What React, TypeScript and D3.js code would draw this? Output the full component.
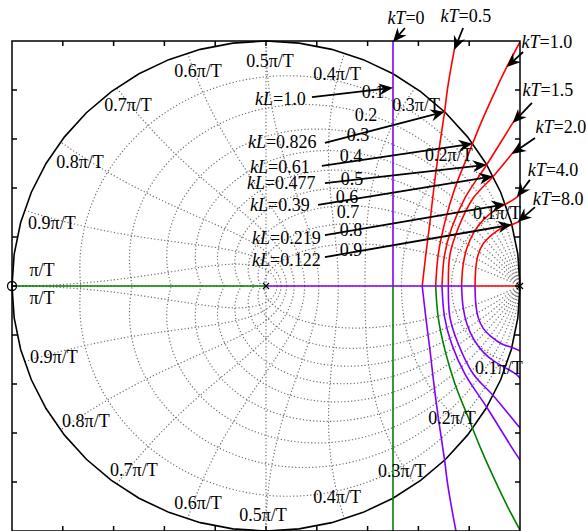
import React from 'react';
import * as d3 from 'd3';

const W = 587;
const H = 531;

// ---- root-locus data (upper half, z-plane coordinates); lower half is the conjugate ----
const kTValues = ['0', '0.5', '1.0', '1.5', '2.0', '4.0', '8.0'];
const locusKT0 = [[0.5, 0], [0.5, 1.0]];
const locusKT05 = [[0.615, 0], [0.630, 0.135], [0.646, 0.265], [0.661, 0.400], [0.678, 0.535], [0.703, 0.710], [0.715, 0.808], [0.741, 0.963], [0.748, 1.0]];
const locusKT10 = [[0.668, 0], [0.678, 0.128], [0.705, 0.264], [0.744, 0.400], [0.796, 0.536], [0.849, 0.672], [0.908, 0.808], [0.948, 0.894], [1.0, 0.996]];
const locusKT15 = [[0.693, 0], [0.703, 0.127], [0.731, 0.237], [0.783, 0.359], [0.869, 0.495], [0.980, 0.679], [1.007, 0.720]];
const locusKT20 = [[0.718, 0], [0.724, 0.127], [0.757, 0.237], [0.816, 0.359], [0.895, 0.448], [0.987, 0.563], [1.008, 0.588]];
const locusKT40 = [[0.770, 0], [0.776, 0.086], [0.791, 0.155], [0.819, 0.220], [0.858, 0.273], [0.902, 0.310], [0.941, 0.333], [0.988, 0.363], [1.008, 0.388]];
const locusKT80 = [[0.823, 0], [0.826, 0.073], [0.835, 0.127], [0.854, 0.171], [0.889, 0.209], [0.929, 0.237], [0.967, 0.250], [1.008, 0.269]];
const loci = [locusKT0, locusKT05, locusKT10, locusKT15, locusKT20, locusKT40, locusKT80];
const upperColors = ['#7f00ff', '#ff0000', '#ff0000', '#ff0000', '#ff0000', '#ff0000', '#ff0000'];
const lowerColors = ['#008000', '#7f00ff', '#008000', '#7f00ff', '#7f00ff', '#7f00ff', '#7f00ff'];
// real axis segments: breakpoints and colours
const realAxisBreaks = [-1, 0, 0.823, 1];
const realAxisColors = ['#008000', '#7f00ff', '#ff0000'];

// ---- kT annotations ----
const kTLabelPos = [[0.551, 1.094], [0.787, 1.102], [1.106, 0.996], [1.110, 0.800], [1.161, 0.649], [1.130, 0.473], [1.150, 0.355]];
const kTArrowFrom = [[0.547, 1.053], [0.776, 1.053], [1.012, 0.955], [1.047, 0.747], [1.059, 0.604], [1.039, 0.433], [1.059, 0.322]];
const kTArrowTipY = [0.996, 0.963, 0.894, 0.665, 0.539, 0.363, 0.261];

// ---- kL annotations (arrow to unit-circle crossing of each kT locus) ----
const kLValues = ['1.0', '0.826', '0.61', '0.477', '0.39', '0.219', '0.122'];
const kLLabelPos = [[-0.043, 0.763], [-0.071, 0.588], [-0.063, 0.486], [-0.075, 0.420], [-0.063, 0.331], [-0.055, 0.196], [-0.055, 0.106]];
const kLArrowFrom = [[0.181, 0.771], [0.232, 0.584], [0.220, 0.490], [0.232, 0.420], [0.205, 0.331], [0.232, 0.208], [0.232, 0.118]];

// ---- z-grid ----
const zetas = [0.1, 0.2, 0.3, 0.4, 0.5, 0.6, 0.7, 0.8, 0.9];
const wnFracs = [0.1, 0.2, 0.3, 0.4, 0.5, 0.6, 0.7, 0.8, 0.9, 1.0];
const zetaLabelPos = [[0.421, 0.792], [0.394, 0.698], [0.362, 0.616], [0.335, 0.531], [0.339, 0.437], [0.319, 0.363], [0.323, 0.302], [0.335, 0.229], [0.335, 0.147]];
const wnLabels = ['0.1π/T', '0.2π/T', '0.3π/T', '0.4π/T', '0.5π/T', '0.6π/T', '0.7π/T', '0.8π/T', '0.9π/T', 'π/T'];
const wnLabelUpper = [[0.909, 0.298], [0.720, 0.535], [0.591, 0.739], [0.280, 0.865], [0.016, 0.918], [-0.268, 0.878], [-0.543, 0.739], [-0.732, 0.506], [-0.843, 0.257], [-0.882, 0.065]];
const wnLabelLower = [[0.917, -0.335], [0.732, -0.539], [0.535, -0.755], [0.280, -0.861], [-0.012, -0.935], [-0.268, -0.886], [-0.520, -0.751], [-0.709, -0.551], [-0.835, -0.290], [-0.882, -0.049]];
const tickValues = [-0.8, -0.6, -0.4, -0.2, 0, 0.2, 0.4, 0.6, 0.8];

const FONT = "'Liberation Serif','Times New Roman',serif";

const x = d3.scaleLinear().domain([-1, 1]).range([12, 520]);
const y = d3.scaleLinear().domain([-1, 1]).range([531, 41]);

const lineSmooth = d3.line<number[]>().x(d => x(d[0])).y(d => y(d[1])).curve(d3.curveCatmullRom.alpha(0.5));
const lineStraight = d3.line<number[]>().x(d => x(d[0])).y(d => y(d[1]));

function circleCrossing(pts: number[][]): number[] {
  for (let i = 0; i < pts.length - 1; i++) {
    const r1 = Math.hypot(pts[i][0], pts[i][1]);
    const r2 = Math.hypot(pts[i + 1][0], pts[i + 1][1]);
    if ((r1 - 1) * (r2 - 1) <= 0) {
      const t = (1 - r1) / (r2 - r1);
      return [pts[i][0] + t * (pts[i + 1][0] - pts[i][0]), pts[i][1] + t * (pts[i + 1][1] - pts[i][1])];
    }
  }
  return pts[pts.length - 1];
}
function pointAtY(pts: number[][], yy: number): number[] {
  for (let i = 0; i < pts.length - 1; i++) {
    const a = pts[i][1], b = pts[i + 1][1];
    if ((a - yy) * (b - yy) <= 0 && a !== b) {
      const t = (yy - a) / (b - a);
      return [pts[i][0] + t * (pts[i + 1][0] - pts[i][0]), yy];
    }
  }
  return pts[pts.length - 1];
}

function Arrow({ from, to }: { from: number[]; to: number[] }) {
  const x1 = x(from[0]), y1 = y(from[1]), x2 = x(to[0]), y2 = y(to[1]);
  const dx = x2 - x1, dy = y2 - y1;
  const len = Math.hypot(dx, dy);
  const ux = dx / len, uy = dy / len;
  const nx = -uy, ny = ux;
  const L = 14, Wd = 6, notch = 9.5;
  const b1 = [x2 - ux * L + nx * Wd, y2 - uy * L + ny * Wd];
  const b2 = [x2 - ux * L - nx * Wd, y2 - uy * L - ny * Wd];
  const nb = [x2 - ux * notch, y2 - uy * notch];
  return (
    <g>
      <line x1={x1} y1={y1} x2={nb[0]} y2={nb[1]} stroke="#000" strokeWidth={1.8} />
      <path d={`M${x2},${y2}L${b1[0]},${b1[1]}L${nb[0]},${nb[1]}L${b2[0]},${b2[1]}Z`} fill="#000" />
    </g>
  );
}

export default function App() {
  // grid curves
  const zetaCurves: number[][][] = [];
  zetas.forEach(z => {
    const m = z / Math.sqrt(1 - z * z);
    const up = d3.range(0, 201).map(i => {
      const th = (i / 200) * Math.PI;
      const r = Math.exp(-m * th);
      return [r * Math.cos(th), r * Math.sin(th)];
    });
    zetaCurves.push(up);
    zetaCurves.push(up.map(p => [p[0], -p[1]]));
  });
  const wnCurves: number[][][] = [];
  wnFracs.forEach(f => {
    const a = f * Math.PI;
    const up = d3.range(0, 101).map(i => {
      const t = (i / 100) * (Math.PI / 2);
      const r = Math.exp(-a * Math.cos(t));
      const ang = a * Math.sin(t);
      return [r * Math.cos(ang), r * Math.sin(ang)];
    });
    wnCurves.push(up);
    wnCurves.push(up.map(p => [p[0], -p[1]]));
  });
  const unitCircle = d3.range(0, 49).map(i => {
    const th = (i / 48) * 2 * Math.PI;
    return [Math.cos(th), Math.sin(th)];
  });

  const bx0 = x(-1), bx1 = x(1), by0 = y(1), by1 = y(-1);
  const tickLen = 5;

  return (
    <svg width={W} height={H} style={{ position: 'absolute', left: 0, top: 0, background: '#fff' }} fontFamily={FONT}>
      <defs>
        <clipPath id="box">
          <rect x={bx0} y={by0} width={bx1 - bx0} height={by1 - by0} />
        </clipPath>
      </defs>
      <rect x={0} y={0} width={W} height={H} fill="#fff" />
      {/* dotted z-grid */}
      <g fill="none" stroke="#707070" strokeWidth={1.2} strokeDasharray="1.2,2.2">
        {zetaCurves.map((c, i) => <path key={'z' + i} d={lineStraight(c) || ''} />)}
        {wnCurves.map((c, i) => <path key={'w' + i} d={lineStraight(c) || ''} />)}
        <path d={lineStraight([[-1, 0], [1, 0]]) || ''} />
        <path d={lineStraight([[0, -1], [0, 1]]) || ''} />
      </g>
      {/* unit circle */}
      <path d={lineStraight(unitCircle) || ''} fill="none" stroke="#000" strokeWidth={1.6} />
      {/* loci */}
      <g clipPath="url(#box)" fill="none" strokeWidth={1.6}>
        {loci.map((pts, i) => (
          <g key={'l' + i}>
            <path d={(i === 0 ? lineStraight(pts) : lineSmooth(pts)) || ''} stroke={upperColors[i]} />
            <path d={(i === 0 ? lineStraight(pts.map(p => [p[0], -p[1]])) : lineSmooth(pts.map(p => [p[0], -p[1]]))) || ''} stroke={lowerColors[i]} />
          </g>
        ))}
        {realAxisColors.map((c, i) => (
          <path key={'ra' + i} d={lineStraight([[realAxisBreaks[i], 0], [realAxisBreaks[i + 1], 0]]) || ''} stroke={c} />
        ))}
      </g>
      {/* axes box */}
      <g stroke="#000" strokeWidth={1.5} fill="none">
        <rect x={bx0} y={by0} width={bx1 - bx0} height={by1 - by0} />
        {tickValues.map(t => (
          <g key={'t' + t}>
            <line x1={x(t)} x2={x(t)} y1={by0} y2={by0 + tickLen} />
            <line x1={x(t)} x2={x(t)} y1={by1} y2={by1 - tickLen} />
            <line x1={bx0} x2={bx0 + tickLen} y1={y(t)} y2={y(t)} />
            <line x1={bx1} x2={bx1 - tickLen} y1={y(t)} y2={y(t)} />
          </g>
        ))}
      </g>
      {/* pole / zero markers */}
      <circle cx={x(-1)} cy={y(0)} r={4.5} fill="none" stroke="#000" strokeWidth={1.3} />
      {[0, 1].map(p => (
        <g key={'x' + p} stroke="#000" strokeWidth={1.2}>
          <line x1={x(p) - 3} x2={x(p) + 3} y1={y(0) - 3} y2={y(0) + 3} />
          <line x1={x(p) - 3} x2={x(p) + 3} y1={y(0) + 3} y2={y(0) - 3} />
        </g>
      ))}
      {/* grid labels */}
      <g fontSize={18} fill="#000" textAnchor="middle" dominantBaseline="central">
        {zetas.map((z, i) => (
          <text key={'zl' + i} x={x(zetaLabelPos[i][0])} y={y(zetaLabelPos[i][1])}>{String(z)}</text>
        ))}
        {wnLabels.map((s, i) => (
          <text key={'wu' + i} x={x(wnLabelUpper[i][0])} y={y(wnLabelUpper[i][1])}>{s}</text>
        ))}
        {wnLabels.map((s, i) => (
          <text key={'wl' + i} x={x(wnLabelLower[i][0])} y={y(wnLabelLower[i][1])}>{s}</text>
        ))}
      </g>
      {/* kL arrows and labels */}
      {kLValues.map((v, i) => (
        <g key={'kl' + i}>
          <Arrow from={kLArrowFrom[i]} to={circleCrossing(loci[i])} />
          <text x={x(kLLabelPos[i][0])} y={y(kLLabelPos[i][1])} fontSize={18} dominantBaseline="central">
            <tspan fontStyle="italic">kL</tspan>
            <tspan>={v}</tspan>
          </text>
        </g>
      ))}
      {/* kT arrows and labels */}
      {kTValues.map((v, i) => (
        <g key={'kt' + i}>
          <Arrow from={kTArrowFrom[i]} to={pointAtY(loci[i], kTArrowTipY[i])} />
          <text x={x(kTLabelPos[i][0])} y={y(kTLabelPos[i][1])} fontSize={18} textAnchor="middle" dominantBaseline="central">
            <tspan fontStyle="italic">kT</tspan>
            <tspan>={v}</tspan>
          </text>
        </g>
      ))}
    </svg>
  );
}
